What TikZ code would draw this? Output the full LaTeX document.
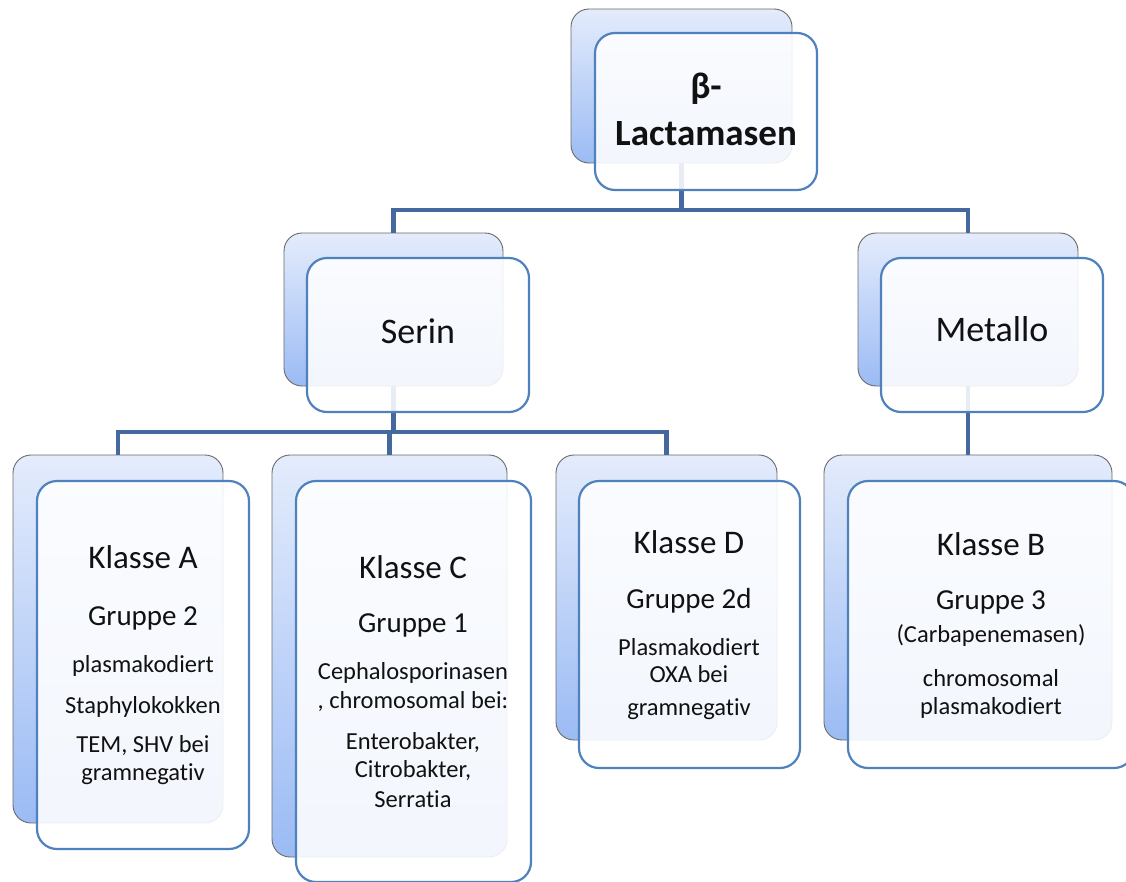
\documentclass[tikz,border=0pt]{standalone}
\usepackage{fontspec}
\setmainfont{Carlito}[Ligatures=NoCommon]
\definecolor{connc}{HTML}{45699E}
\definecolor{frontline}{HTML}{4F81BD}
\definecolor{backtop}{HTML}{E4ECFC}
\definecolor{backbot}{HTML}{9BBBF4}
\definecolor{backline}{HTML}{6A6A6A}
\definecolor{txt}{HTML}{111111}
\tikzset{
  backbox/.style={draw=backline, line width=0.9pt, rounded corners=18pt,
    top color=backtop, bottom color=backbot, inner sep=0pt, outer sep=0pt},
  frontbox/.style={draw=frontline, line width=2.2pt, rounded corners=20pt,
    fill=white, fill opacity=0.88, draw opacity=1, inner sep=0pt, outer sep=0pt},
  conn/.style={draw=connc, line width=4.5pt},
  tbase/.style={anchor=mid, inner sep=0pt, text=txt, yshift=-8.5pt},
  ttop/.style={tbase, font=\fontsize{37}{44}\selectfont\bfseries},
  tbig/.style={tbase, font=\fontsize{36}{43}\selectfont},
  tkl/.style={tbase, font=\fontsize{33}{40}\selectfont},
  tgr/.style={tbase, font=\fontsize{29}{35}\selectfont},
  tsm/.style={tbase, font=\fontsize{24.5}{29}\selectfont},
}
\newcommand\mkbox[6]{\node[#2, minimum width={#5-#3}, minimum height={#6-#4}] (#1) at ({(#3+#5)/2},{(#4+#6)/2}) {};}
\begin{document}
\begin{tikzpicture}[x=1pt,y=-1pt]
\useasboundingbox (0,0) rectangle (1126,881);
% bus levels
\coordinate (j1) at (0,210);
\coordinate (j2) at (0,432);
% centres of the back boxes (connectors attach there)
\path (681.5,86) coordinate (topc) (393.5,309.5) coordinate (serc) (968,309.5) coordinate (metc)
      (118,639) coordinate (kac) (389.5,656) coordinate (kcc) (666.5,597.5) coordinate (kdc) (968,597.5) coordinate (kbc);
% connectors
\draw[conn] (topc) -- (topc |- j1) -| (serc);
\draw[conn] (topc |- j1) -| (metc);
\draw[conn] (serc) -- (serc |- j2) -| (kac);
\draw[conn] (serc |- j2) -| (kcc);
\draw[conn] (serc |- j2) -| (kdc);
\draw[conn] (metc) -- (kbc);
% back boxes
\mkbox{topB}{backbox}{571}{9}{792}{163}
\mkbox{serinB}{backbox}{284}{233}{503}{386}
\mkbox{metalloB}{backbox}{858}{233}{1078}{386}
\mkbox{kaB}{backbox}{13}{455}{223}{823}
\mkbox{kcB}{backbox}{272}{455}{507}{857}
\mkbox{kdB}{backbox}{556}{455}{777}{740}
\mkbox{kbB}{backbox}{824}{455}{1112}{740}
% front boxes
\mkbox{topF}{frontbox}{595}{33}{817}{190}
\mkbox{serinF}{frontbox}{307}{258}{529}{412}
\mkbox{metalloF}{frontbox}{881}{258}{1103}{412}
\mkbox{kaF}{frontbox}{37}{481}{249}{849}
\mkbox{kcF}{frontbox}{296}{481}{531}{882}
\mkbox{kdF}{frontbox}{579}{481}{800}{768}
\mkbox{kbF}{frontbox}{848}{481}{1134}{768}
% texts
\node[ttop] (t1) at (706,88) {β-};
\node[ttop] (t2) at (706,135) {Lactamasen};
\node[tbig] (s1) at (418,333) {Serin};
\node[tbig] (m1) at (992,331) {Metallo};
% Klasse A
\node[tkl] (a1) at (143,558) {Klasse A};
\node[tgr] (a2) at (143,615) {Gruppe 2};
\node[tsm] (a3) at (143,662) {plasmakodiert};
\node[tsm] (a4) at (143,703) {Staphylokokken};
\node[tsm] (a5) at (143,742) {TEM, SHV bei};
\node[tsm] (a6) at (143,770) {gramnegativ};
% Klasse C
\node[tkl] (c1) at (413,568) {Klasse C};
\node[tgr] (c2) at (413,622) {Gruppe 1};
\node[tsm] (c3) at (413,669) {Cephalosporinasen};
\node[tsm] (c4) at (413,698) {, chromosomal bei:};
\node[tsm] (c5) at (413,739) {Enterobakter,};
\node[tsm] (c6) at (413,767) {Citrobakter,};
\node[tsm] (c7) at (413,797) {Serratia};
% Klasse D
\node[tkl] (d1) at (689,543) {Klasse D};
\node[tgr] (d2) at (689,598) {Gruppe 2d};
\node[tsm] (d3) at (689,645) {Plasmakodiert};
\node[tsm] (d4) at (689,672) {OXA bei};
\node[tsm] (d5) at (689,705) {gramnegativ};
% Klasse B
\node[tkl] (b1) at (991,545) {Klasse B};
\node[tgr] (b2) at (991,599) {Gruppe 3};
\node[tsm] (b3) at (991,632) {(Carbapenemasen)};
\node[tsm] (b4) at (991,676) {chromosomal};
\node[tsm] (b5) at (991,704) {plasmakodiert};
\end{tikzpicture}
\end{document}
